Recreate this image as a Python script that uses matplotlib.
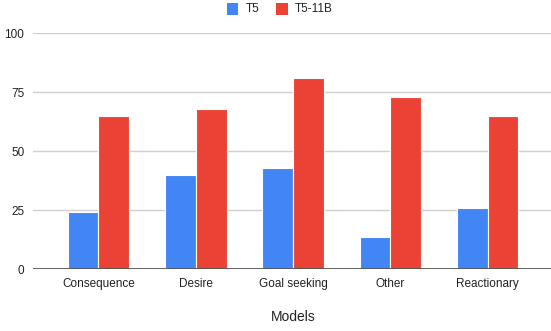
import matplotlib
matplotlib.use("Agg")
import matplotlib.pyplot as plt
import numpy as np
from matplotlib.patches import Rectangle

plt.rcParams['font.family'] = ['Liberation Sans', 'DejaVu Sans']

categories = ["Consequence", "Desire", "Goal seeking", "Other", "Reactionary"]
series_names = ["T5", "T5-11B"]
t5 = [24.3, 40, 43, 13.5, 26]
t5_11b = [65, 68, 81, 73, 65]
y_ticks = [0, 25, 50, 75, 100]
x_title = "Models"

colors = ["#4285F4", "#EA4335"]

W, H = 551, 331
fig = plt.figure(figsize=(W / 100, H / 100), dpi=100)
left, right = 32.7, 553.5
bottom, top = 269.3, 33
ax = fig.add_axes([left / W, (H - bottom) / H, (right - left) / W, (bottom - top) / H])

x = np.arange(len(categories))
bw = 0.316
ax.bar(x - bw / 2, t5, width=bw, color=colors[0], edgecolor="white", linewidth=0.8, zorder=3)
ax.bar(x + bw / 2, t5_11b, width=bw, color=colors[1], edgecolor="white", linewidth=0.8, zorder=3)

ax.set_xlim(-0.676, 4.676)
ax.set_ylim(0, 100)
ax.set_yticks(y_ticks)
ax.set_yticklabels([str(v) for v in y_ticks], fontsize=8.5, color="#222222")
ax.set_xticks(x)
ax.set_xticklabels(categories, fontsize=8.5, color="#222222")
ax.tick_params(axis="both", length=0)
ax.tick_params(axis="y", pad=6)
ax.tick_params(axis="x", pad=6)

for v in y_ticks[1:]:
    ax.axhline(v, color="#d0d0d0", linewidth=1.0, zorder=1)
ax.axhline(0, color="#555555", linewidth=1.3, zorder=4)

for s in ax.spines.values():
    s.set_visible(False)

ax.set_xlabel(x_title, fontsize=10, color="#222222", labelpad=15)

# legend drawn in figure pixels
def fx(px):
    return px / W

def fy(py):
    return (H - py) / H

legend_items = [(226.7, 245.7), (276.0, 294.3)]
for (sx, tx), name, c in zip(legend_items, series_names, colors):
    fig.patches.append(Rectangle((fx(sx), fy(14.5)), 11.5 / W, 11.5 / H,
                                 transform=fig.transFigure, facecolor=c, edgecolor="none"))
    fig.text(fx(tx), fy(8.7), name, fontsize=8.5, color="#222222", va="center", ha="left")

fig.savefig("out.png", dpi=100)
